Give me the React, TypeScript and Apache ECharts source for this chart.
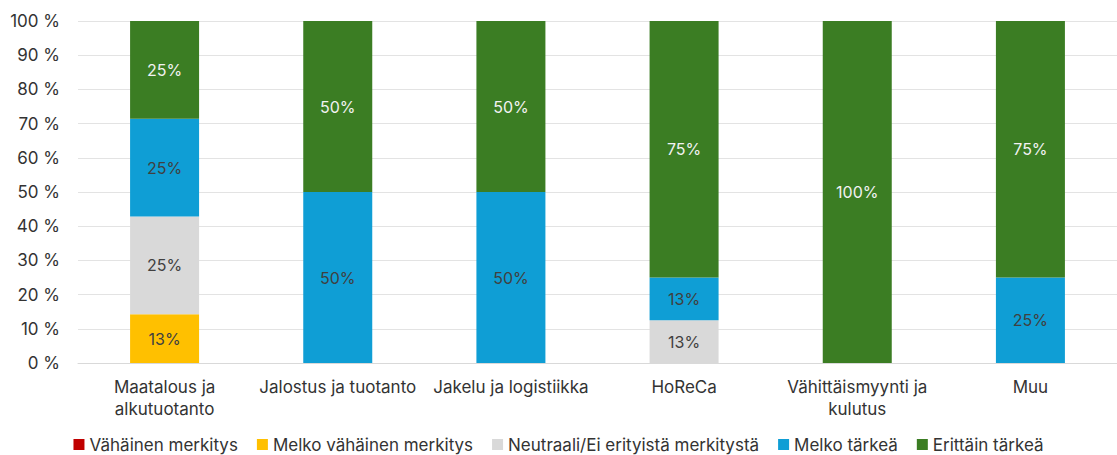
import React, { useEffect, useRef } from "react";
import * as echarts from "echarts";

const categories = [
  "Maatalous ja\nalkutuotanto",
  "Jalostus ja tuotanto",
  "Jakelu ja logistiikka",
  "HoReCa",
  "Vähittäismyynti ja\nkulutus",
  "Muu",
];

const seriesNames = [
  "Vähäinen merkitys",
  "Melko vähäinen merkitys",
  "Neutraali/Ei erityistä merkitystä",
  "Melko tärkeä",
  "Erittäin tärkeä",
];

// raw shares (percent of respondents in the category)
const vahainen = [0, 0, 0, 0, 0, 0];
const melkoVahainen = [12.5, 0, 0, 0, 0, 0];
const neutraali = [25, 0, 0, 12.5, 0, 0];
const melkoTarkea = [25, 50, 50, 12.5, 0, 25];
const erittainTarkea = [25, 50, 50, 75, 100, 75];

const seriesValues = [vahainen, melkoVahainen, neutraali, melkoTarkea, erittainTarkea];
const seriesColors = ["#C00000", "#FFC000", "#D9D9D9", "#0F9ED5", "#3B7D23"];
const labelColors = ["#ffffff", "#404040", "#404040", "#404040", "#f2f2f2"];

const FONT = "Inter, 'Noto Sans', sans-serif";

export default function App() {
  const ref = useRef<HTMLDivElement>(null);
  useEffect(() => {
    if (!ref.current) return;
    const chart = echarts.init(ref.current, undefined, { renderer: "svg" });
    const totals = categories.map((_, i) =>
      seriesValues.reduce((s, arr) => s + arr[i], 0)
    );
    const series = seriesNames.map((name, si) => ({
      name,
      type: "bar",
      stack: "total",
      barWidth: 69,
      itemStyle: { color: seriesColors[si] },
      label: {
        show: true,
        position: "inside",
        color: labelColors[si],
        fontSize: 16,
        fontFamily: FONT,
        formatter: (p: any) => {
          const raw = seriesValues[si][p.dataIndex];
          return raw > 0 ? Math.round(raw) + "%" : "";
        },
      },
      data: seriesValues[si].map((v, i) => (totals[i] > 0 ? (v / totals[i]) * 100 : 0)),
    }));
    chart.setOption({
      animation: false,
      textStyle: { fontFamily: FONT },
      grid: { left: 78, top: 21, width: 1041, bottom: 92, containLabel: false },
      legend: {
        data: seriesNames,
        left: "center",
        top: 436,
        padding: 0,
        itemWidth: 11,
        itemHeight: 11,
        itemGap: 19,
        icon: "rect",
        textStyle: { fontSize: 17, lineHeight: 17, color: "#333333", fontFamily: FONT },
      },
      xAxis: {
        type: "category",
        data: categories,
        axisLine: { show: true, lineStyle: { color: "#D9D9D9" } },
        axisTick: { show: false },
        axisLabel: {
          interval: 0,
          fontSize: 17,
          color: "#333333",
          lineHeight: 22,
          margin: 13,
          fontFamily: FONT,
        },
      },
      yAxis: {
        type: "value",
        min: 0,
        max: 100,
        interval: 10,
        axisLine: { show: false },
        axisTick: { show: false },
        splitLine: { lineStyle: { color: "#E3E3E3", width: 1 } },
        axisLabel: {
          formatter: "{value} %",
          fontSize: 17,
          color: "#333333",
          margin: 18,
          fontFamily: FONT,
        },
      },
      series,
    });
    return () => chart.dispose();
  }, []);
  return (
    <div
      ref={ref}
      style={{ position: "absolute", left: 0, top: 0, width: 1117, height: 455, background: "#fff" }}
    />
  );
}
